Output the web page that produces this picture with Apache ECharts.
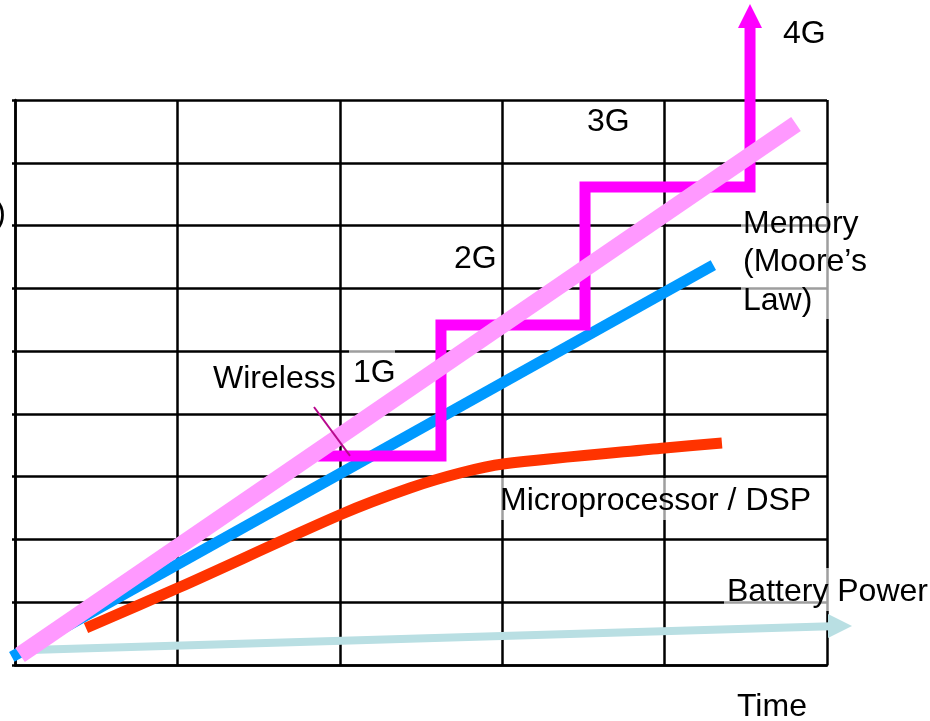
<!DOCTYPE html>
<html>
<head>
<meta charset="utf-8">
<script src="https://cdn.jsdelivr.net/npm/echarts@6/dist/echarts.min.js"></script>
<style>
  html, body { margin: 0; padding: 0; background: #ffffff; }
  #chart { width: 930px; height: 721px; }
</style>
</head>
<body>
<div id="chart"></div>
<script>
// Time runs along x (5 grid columns), capability along y (9 grid rows).
const xRange = [0, 5];
const yRange = [0, 9];

// Memory capacity grows steadily (Moore's law)
const memoryTrend = [[-0.02, 0.13], [4.30, 6.37]];
// Wireless data rates: generational steps 1G -> 2G -> 3G -> 4G
const wirelessSteps = [
  [1.866, 3.33], [2.623, 3.33], [2.623, 5.416], [3.510, 5.416],
  [3.510, 7.614], [4.526, 7.614], [4.526, 10.34]
];
// Moore's law slope
const mooreTrend = [[0.031, 0.159], [4.809, 8.617]];
// Microprocessor / DSP performance flattens out
const dspTrend = [
  [0.437, 0.589], [1.016, 1.242], [2.013, 2.405], [2.432, 2.819],
  [2.740, 3.058], [3.005, 3.202], [4.002, 3.457], [4.353, 3.536]
];
// Battery power barely moves
const batteryTrend = [[0.092, 0.239], [5.08, 0.62]];
// Leader from the "Wireless" caption to the 1G step
const wirelessLeader = [[1.841, 4.110], [2.063, 3.330]];

const captions = ['4G', '3G', '2G', '1G', 'Wireless', 'Memory', '(Moore\u2019s', 'Law)',
                  'Microprocessor / DSP', 'Battery Power', 'Time', ')'];

const chart = echarts.init(document.getElementById('chart'), null, { renderer: 'canvas' });

const FONT = '32px "Liberation Sans", Arial, sans-serif';

function arrowSymbol(n) {
  return function (value, params) { return params.dataIndex === n - 1 ? 'triangle' : 'none'; };
}

function caption(text, x, y, align) {
  return {
    type: 'text', z: 10, x: x, y: y,
    style: { text: text, font: FONT, fill: '#000000', align: align || 'left', verticalAlign: 'middle' }
  };
}
function veil(x, y, w, h) {
  return { type: 'rect', z: 1, shape: { x: x, y: y, width: w, height: h },
           style: { fill: 'rgba(255,255,255,0.62)' }, silent: true };
}

const gridLine = { color: '#000', width: 2.5 };

chart.setOption({
  animation: false,
  backgroundColor: '#ffffff',
  grid: { left: 15, top: 100, width: 812, height: 565, containLabel: false },
  xAxis: {
    type: 'value', min: xRange[0], max: xRange[1], interval: 1,
    axisLine: { show: true, lineStyle: gridLine },
    axisTick: { show: false },
    axisLabel: { show: false },
    splitLine: { show: true, lineStyle: gridLine }
  },
  yAxis: {
    type: 'value', min: yRange[0], max: yRange[1], interval: 1,
    axisLine: { show: true, lineStyle: gridLine },
    axisTick: { show: true, inside: false, length: 3, lineStyle: gridLine },
    axisLabel: { show: false },
    splitLine: { show: true, lineStyle: gridLine }
  },
  series: [
    {
      name: 'Battery Power', type: 'line', data: batteryTrend, clip: false,
      symbol: arrowSymbol(batteryTrend.length), symbolSize: [24, 24], symbolRotate: -90,
      itemStyle: { color: '#B9DFE3' },
      lineStyle: { color: '#B9DFE3', width: 8, cap: 'butt' }, z: 2, silent: true
    },
    {
      name: 'Microprocessor / DSP', type: 'line', data: dspTrend, clip: false, smooth: 0.3,
      symbol: 'none', lineStyle: { color: '#FF3300', width: 11, cap: 'butt' }, z: 3, silent: true
    },
    {
      name: 'Memory', type: 'line', data: memoryTrend, clip: false,
      symbol: 'none', lineStyle: { color: '#0099FF', width: 11, cap: 'butt' }, z: 4, silent: true
    },
    {
      name: 'Wireless', type: 'line', data: wirelessSteps, clip: false,
      symbol: arrowSymbol(wirelessSteps.length), symbolSize: [24, 24],
      itemStyle: { color: '#FF00FF' },
      lineStyle: { color: '#FF00FF', width: 11, cap: 'butt', join: 'miter' }, z: 5, silent: true
    },
    {
      name: 'Moore', type: 'line', data: mooreTrend, clip: false,
      symbol: 'none', lineStyle: { color: '#FF99FF', width: 17, cap: 'butt' }, z: 6, silent: true
    },
    {
      name: 'Leader', type: 'line', data: wirelessLeader, clip: false,
      symbol: 'none', lineStyle: { color: '#B8088E', width: 2 }, z: 7, silent: true
    }
  ],
  graphic: [
    veil(349, 348, 46, 46),
    veil(741, 203, 125, 116),
    veil(497, 478, 315, 42),
    veil(724, 568, 206, 43),
    caption(captions[0], 783, 34),
    caption(captions[1], 587, 122),
    caption(captions[2], 454, 259),
    caption(captions[3], 353, 373),
    caption(captions[4], 213, 379),
    caption(captions[5], 743, 224),
    caption(captions[6], 743, 262),
    caption(captions[7], 743, 301),
    caption(captions[8], 500, 501),
    caption(captions[9], 727, 592),
    caption(captions[10], 737, 707),
    caption(captions[11], 6, 214, 'right')
  ]
});
</script>
</body>
</html>
